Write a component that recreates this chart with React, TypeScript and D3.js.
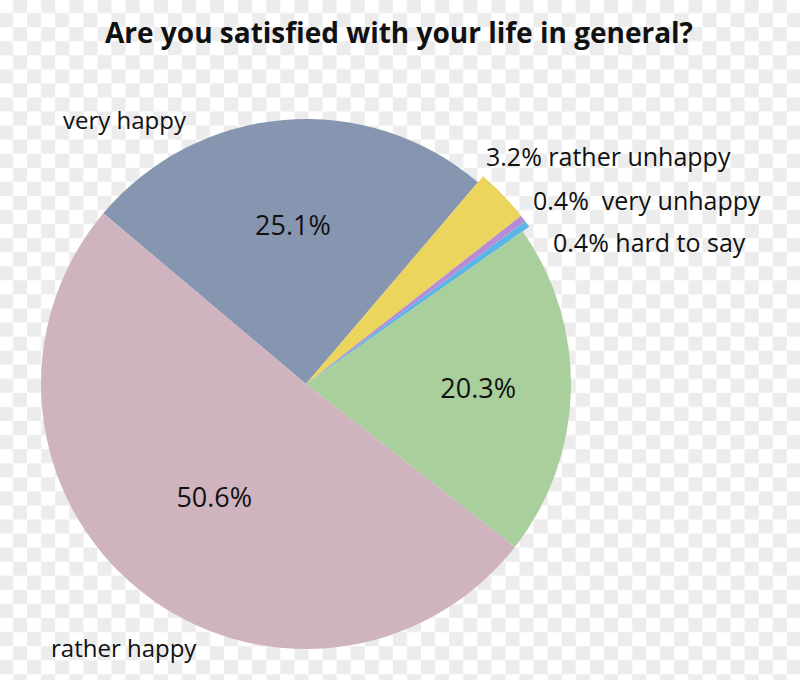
import React from "react";
import * as d3 from "d3";

const width = 800;
const height = 680;

// data
const categories = ["very happy", "rather unhappy", "very unhappy", "hard to say", "neutral", "rather happy"];
const shares = [25.1, 3.2, 0.4, 0.4, 20.3, 50.6];
const colors = ["#8796b0", "#ecd55c", "#b98ad6", "#5db5e6", "#a9cf9c", "#cfb4bf"];
const titleText = "Are you satisfied with your life in general?";

// slices that stick out a bit past the rim
const bigSlices = ["rather unhappy", "very unhappy", "hard to say"];
// inside % labels: distance from centre as fraction of radius
const insideLabels: { [k: string]: number } = { "very happy": 0.6, neutral: 0.65, "rather happy": 0.55 };
// outside labels, placed by hand like in the original
const outsideLabels = [
  { cat: "very happy", text: "very happy", x: 63, y: 129, size: 24 },
  { cat: "rather unhappy", text: "3.2% rather unhappy", x: 486, y: 166, size: 25 },
  { cat: "very unhappy", text: "0.4%  very unhappy", x: 533, y: 210, size: 25 },
  { cat: "hard to say", text: "0.4% hard to say", x: 553, y: 252, size: 25 },
  { cat: "rather happy", text: "rather happy", x: 51, y: 657, size: 24 },
];

const cx = 306;
const cy = 384;
const radius = 265;
const start = (-49.9 * Math.PI) / 180;

export default function App() {
  const rows = categories.map((c, i) => ({ cat: c, value: shares[i], color: colors[i] }));
  const pie = d3
    .pie<any>()
    .sort(null)
    .value((d) => d.value)
    .startAngle(start)
    .endAngle(start + 2 * Math.PI);
  const arcs = pie(rows);

  const arc = d3.arc<any>().innerRadius(0);
  const font = "'Open Sans', 'Noto Sans', sans-serif";

  return (
    <svg
      width={width}
      height={height}
      style={{ position: "absolute", left: 0, top: 0 }}
    >
      <defs>
        <pattern id="checker" x={-1.07} y={-1.07} width={28.14} height={28.14} patternUnits="userSpaceOnUse">
          <rect width={28.14} height={28.14} fill="#ffffff" />
          <rect x={14.07} y={0} width={14.07} height={14.07} fill="#ececec" />
          <rect x={0} y={14.07} width={14.07} height={14.07} fill="#ececec" />
        </pattern>
      </defs>
      <rect width={width} height={height} fill="url(#checker)" />

      <text
        x={399}
        y={43}
        textAnchor="middle"
        fontFamily={font}
        fontWeight="bold"
        fontSize={28}
        fill="#111"
      >
        {titleText}
      </text>

      <g transform={`translate(${cx},${cy})`}>
        {arcs.map((a) => (
          <path
            key={a.data.cat}
            d={arc.outerRadius(bigSlices.includes(a.data.cat) ? radius + 8 : radius)(a) || ""}
            fill={a.data.color}
          />
        ))}
        {arcs
          .filter((a) => insideLabels[a.data.cat] !== undefined)
          .map((a) => {
            const r = radius * insideLabels[a.data.cat];
            const c = d3.arc<any>().innerRadius(r).outerRadius(r).centroid(a);
            return (
              <text
                key={a.data.cat}
                x={c[0]}
                y={c[1]}
                dy="0.35em"
                textAnchor="middle"
                fontFamily={font}
                fontSize={27}
                fill="#111"
              >
                {a.data.value.toFixed(1)}%
              </text>
            );
          })}
      </g>

      {outsideLabels.map((l) => (
        <text
          key={l.cat}
          x={l.x}
          y={l.y}
          fontFamily={font}
          fontSize={l.size}
          fill="#111"
          style={{ whiteSpace: "pre" }}
        >
          {l.text}
        </text>
      ))}
    </svg>
  );
}
